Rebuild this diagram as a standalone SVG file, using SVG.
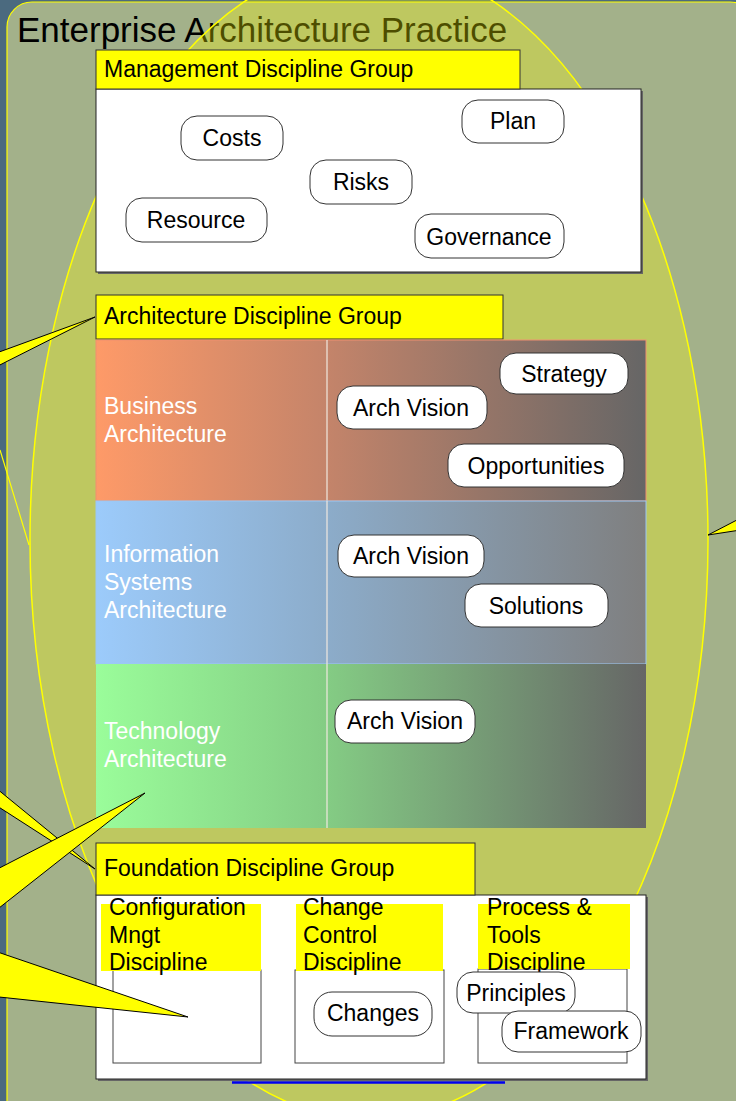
<svg xmlns="http://www.w3.org/2000/svg" width="736" height="1101" viewBox="0 0 736 1101">
<defs>
<linearGradient id="gBus" x1="96" y1="0" x2="646" y2="0" gradientUnits="userSpaceOnUse">
<stop offset="0" stop-color="#fe9a68"/><stop offset="0.42" stop-color="#c4846a"/><stop offset="1" stop-color="#666666"/>
</linearGradient>
<linearGradient id="gInf" x1="96" y1="0" x2="646" y2="0" gradientUnits="userSpaceOnUse">
<stop offset="0" stop-color="#9ccbfb"/><stop offset="0.42" stop-color="#8cacca"/><stop offset="1" stop-color="#7f7f7f"/>
</linearGradient>
<linearGradient id="gTec" x1="96" y1="0" x2="646" y2="0" gradientUnits="userSpaceOnUse">
<stop offset="0" stop-color="#9afd9a"/><stop offset="0.42" stop-color="#84cc84"/><stop offset="1" stop-color="#666666"/>
</linearGradient>
<style>
text{font-family:"Liberation Sans",Arial,sans-serif;fill:#000}
.title{font-size:35px}
.hdr{font-size:23px}
.lbl{font-size:23px;fill:#fff}
.nt{font-size:23px;text-anchor:middle}
.node{fill:#fff;stroke:#333;stroke-width:1}
.head{fill:#ffff00;stroke:#333;stroke-width:1}
.box{fill:#fff;stroke:#222;stroke-width:1}
.shadow{fill:#666}
.sub{fill:#fff;stroke:#444;stroke-width:1}
.sublbl{fill:#ffff00}
.call{fill:#ffff00;stroke:#000;stroke-width:1;stroke-linejoin:miter}
.div{stroke:#f0e8e0;stroke-opacity:0.8;stroke-width:1.5}
</style>
</defs>

<rect x="0" y="0" width="736" height="1101" fill="#4b6a7f"/>
<rect x="7" y="2" width="748" height="1125" rx="25" ry="25" fill="#a3b18a" stroke="#ffff00" stroke-width="1.2"/>
<text class="title" x="17" y="42">Enterprise Architecture Practice</text>
<ellipse cx="369" cy="540" rx="339" ry="579" fill="#ffff00" fill-opacity="0.3" stroke="#ffff00" stroke-width="1.5"/>
<line x1="0" y1="450" x2="29" y2="545" stroke="#ffff00" stroke-width="1.2"/>

<g id="management-group">
<rect class="shadow" x="98" y="91" width="545" height="183"/>
<rect class="box" x="96" y="89" width="545" height="183"/>
<rect class="head" x="96" y="50" width="424" height="39"/>
<text class="hdr" x="104" y="77">Management Discipline Group</text>
</g>
<g id="node-costs"><rect class="node" x="181" y="116" width="102" height="44" rx="16"/><text class="nt" x="232" y="146">Costs</text></g>
<g id="node-plan"><rect class="node" x="462" y="100" width="102" height="43" rx="16"/><text class="nt" x="513" y="129">Plan</text></g>
<g id="node-risks"><rect class="node" x="310" y="160" width="102" height="44" rx="16"/><text class="nt" x="361" y="190">Risks</text></g>
<g id="node-resource"><rect class="node" x="126" y="198" width="141" height="44" rx="16"/><text class="nt" x="196" y="228">Resource</text></g>
<g id="node-governance"><rect class="node" x="415" y="214" width="149" height="44" rx="16"/><text class="nt" x="489" y="245">Governance</text></g>

<g id="architecture-group">
<rect class="head" x="96" y="295" width="407" height="44"/>
<text class="hdr" x="104" y="324">Architecture Discipline Group</text>
</g>
<g id="business-architecture">
<rect x="96" y="340" width="550" height="161" fill="url(#gBus)" stroke="#f09070" stroke-width="1"/>
<line class="div" x1="327" y1="340" x2="327" y2="501"/>
<text class="lbl" x="104" y="414">Business</text>
<text class="lbl" x="104" y="442">Architecture</text>
</g>
<g id="information-systems-architecture">
<rect x="96" y="501" width="550" height="163" fill="url(#gInf)" stroke="#9cc8f4" stroke-width="1"/>
<line class="div" x1="327" y1="501" x2="327" y2="664"/>
<text class="lbl" x="104" y="562">Information</text>
<text class="lbl" x="104" y="590">Systems</text>
<text class="lbl" x="104" y="618">Architecture</text>
</g>
<g id="technology-architecture">
<rect x="96" y="664" width="550" height="164" fill="url(#gTec)"/>
<line class="div" x1="327" y1="664" x2="327" y2="828"/>
<text class="lbl" x="104" y="739">Technology</text>
<text class="lbl" x="104" y="767">Architecture</text>
</g>
<g id="node-strategy"><rect class="node" x="500" y="353" width="128" height="41" rx="16"/><text class="nt" x="564" y="382">Strategy</text></g>
<g id="node-arch-vision-business"><rect class="node" x="337" y="386" width="150" height="43" rx="16"/><text class="nt" x="411" y="416">Arch Vision</text></g>
<g id="node-opportunities"><rect class="node" x="448" y="444" width="176" height="43" rx="16"/><text class="nt" x="536" y="474">Opportunities</text></g>
<g id="node-arch-vision-info"><rect class="node" x="338" y="535" width="146" height="42" rx="16"/><text class="nt" x="411" y="564">Arch Vision</text></g>
<g id="node-solutions"><rect class="node" x="465" y="584" width="143" height="43" rx="16"/><text class="nt" x="536" y="614">Solutions</text></g>
<g id="node-arch-vision-tech"><rect class="node" x="335" y="700" width="140" height="43" rx="16"/><text class="nt" x="405" y="729">Arch Vision</text></g>

<g id="foundation-group">
<rect class="shadow" x="98" y="897" width="550" height="184"/>
<rect class="box" x="96" y="895" width="550" height="184"/>
<rect class="head" x="96" y="843" width="379" height="52"/>
<text class="hdr" x="104" y="876">Foundation Discipline Group</text>
</g>
<g id="configuration-discipline">
<rect class="sub" x="113" y="970" width="148" height="93"/>
<rect class="sublbl" x="101" y="904" width="160" height="67"/>
<text class="hdr" x="109" y="915">Configuration</text>
<text class="hdr" x="109" y="943">Mngt</text>
<text class="hdr" x="109" y="970">Discipline</text>
</g>
<g id="change-control-discipline">
<rect class="sub" x="295" y="970" width="149" height="93"/>
<rect class="sublbl" x="296" y="904" width="147" height="67"/>
<text class="hdr" x="303" y="915">Change</text>
<text class="hdr" x="303" y="943">Control</text>
<text class="hdr" x="303" y="970">Discipline</text>
</g>
<g id="process-tools-discipline">
<rect class="sub" x="478" y="969" width="149" height="94"/>
<rect class="sublbl" x="478" y="904" width="152" height="65"/>
<text class="hdr" x="487" y="915">Process &amp;</text>
<text class="hdr" x="487" y="943">Tools</text>
<text class="hdr" x="487" y="970">Discipline</text>
</g>
<g id="node-changes"><rect class="node" x="314" y="992" width="118" height="44" rx="18"/><text class="nt" x="373" y="1021">Changes</text></g>
<g id="node-principles"><rect class="node" x="457" y="972" width="118" height="41" rx="16"/><text class="nt" x="516" y="1001">Principles</text></g>
<g id="node-framework"><rect class="node" x="502" y="1011" width="139" height="41" rx="16"/><text class="nt" x="571" y="1039">Framework</text></g>
<line x1="232" y1="1082.5" x2="505" y2="1082.5" stroke="#0000ee" stroke-width="2.5"/>

<g id="callouts">
<polygon class="call" points="95,317 -20,359 -20,375"/>
<polygon class="call" points="95,869 -20,775 -20,795"/>
<polygon class="call" points="145,793 -20,878 -20,923"/>
<polygon class="call" points="188,1017 -20,946 -20,995"/>
<polygon class="call" points="708,535 760,508 760,527"/>
</g>
</svg>
